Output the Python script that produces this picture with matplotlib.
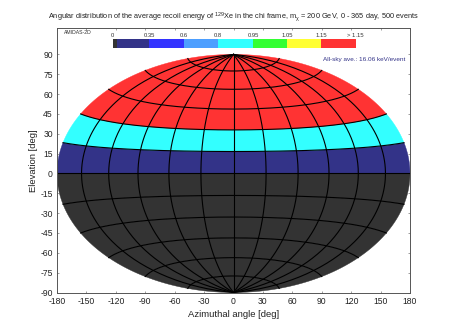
import matplotlib
matplotlib.use('Agg')
import matplotlib.pyplot as plt
import numpy as np

plt.rcParams['font.family'] = ['Liberation Sans', 'DejaVu Sans']
plt.rcParams['mathtext.fontset'] = 'custom'
plt.rcParams['mathtext.rm'] = 'Liberation Sans'
plt.rcParams['mathtext.it'] = 'Liberation Sans'
plt.rcParams['axes.unicode_minus'] = False

# elevation bands (lower edge, upper edge) and average recoil energy ratio
band_low = [-90, -75, -60, -45, -30, -15, 0, 15, 30, 45, 60, 75]
band_high = [-75, -60, -45, -30, -15, 0, 15, 30, 45, 60, 75, 90]
band_ratio = [0.0, 0.0, 0.0, 0.0, 0.0, 0.0, 0.2, 0.9, 1.3, 1.3, 1.3, 1.3]

# colour key
key_edges = [0, 0.02, 0.35, 0.6, 0.8, 0.95, 1.05, 1.15]
key_labels = ['0', '0.35', '0.6', '0.8', '0.95', '1.05', '1.15', '> 1.15']
key_colors = ['#333333', '#333388', '#3333ff', '#4d9fff', '#33ffff', '#33ff33', '#ffff33', '#ff3333']
key_widths = [4.6, 32, 34.7, 34, 35, 34, 34, 34.7]

x_ticks = list(range(-180, 181, 30))
y_ticks = list(range(-90, 91, 15))
meridians = list(range(-150, 151, 30))
parallels = list(range(-75, 76, 15))


def hammer(lon, lat):
    lam = np.radians(lon) / 2
    phi = np.radians(lat)
    d = np.sqrt(1 + np.cos(phi) * np.cos(lam))
    return 180 * np.cos(phi) * np.sin(lam) / d, 90 * np.sin(phi) / d


W, H = 458.0, 321.0
fig = plt.figure(figsize=(W / 100, H / 100), dpi=100)
ax = fig.add_axes([57 / W, 1 - 292.5 / H, 353 / W, 264.5 / H])

lon_fine = np.linspace(-180, 180, 361)
for low, high, ratio in zip(band_low, band_high, band_ratio):
    color = key_colors[np.digitize(ratio, key_edges) - 1]
    side = np.linspace(low, high, 40)
    # go round the band: left side up, top edge, right side down, bottom edge
    lons = np.r_[np.full_like(side, -180), lon_fine, np.full_like(side, 180), lon_fine[::-1]]
    lats = np.r_[side, np.full_like(lon_fine, high), side[::-1], np.full_like(lon_fine, low)]
    x, y = hammer(lons, lats)
    ax.fill(x, y, color=color, lw=0.3, zorder=1)

lat_fine = np.linspace(-90, 90, 181)
for lon in meridians:
    x, y = hammer(np.full_like(lat_fine, lon), lat_fine)
    ax.plot(x, y, color='black', lw=0.8, zorder=2)
for lat in parallels:
    x, y = hammer(lon_fine, np.full_like(lon_fine, lat))
    ax.plot(x, y, color='black', lw=0.8, zorder=2)

ax.set_xlim(-180, 180)
ax.set_ylim(-90, 110)
ax.set_xticks(x_ticks)
ax.set_yticks(y_ticks)
ax.tick_params(direction='in', length=1.3, width=0.4, color='#555555',
               labelsize=6.2, labelcolor='#222222', top=True, right=True, pad=3)
for spine in ax.spines.values():
    spine.set_linewidth(0.7)
    spine.set_color('#555555')
ax.set_xlabel('Azimuthal angle [deg]', fontsize=6.8, color='#222222', labelpad=3)
ax.set_ylabel('Elevation [deg]', fontsize=6.8, color='#222222', labelpad=2)

fig.text(233.5 / W, 1 - 17 / H,
         r'Angular distribution of the average recoil energy of $^{129}$Xe in the chi frame, m$_{\chi}$ = 200 GeV, 0 - 365 day, 500 events',
         fontsize=5.35, ha='center', va='center', color='#222222')
fig.text(64 / W, 1 - 33 / H, 'AMIDAS-2D', fontsize=3.7, va='center', color='#333333')
fig.text(405 / W, 1 - 60 / H, 'All-sky ave.: 16.06 keV/event', fontsize=4.55,
         ha='right', va='center', color='#333388')

# key strip
key = fig.add_axes([112.7 / W, 1 - 48 / H, 243 / W, 9 / H])
lefts = np.r_[0, np.cumsum(key_widths)[:-1]]
key.bar(lefts, [1] * len(key_widths), width=key_widths, align='edge', color=key_colors)
key.set_xlim(0, sum(key_widths))
key.set_ylim(0, 1)
key.axis('off')
label_pos = [lefts[0]] + list(lefts[2:]) + [sum(key_widths)]
for pos, text in zip(label_pos, key_labels):
    key.text(pos, 1.15, text, fontsize=4.2, ha='center', va='bottom', color='#333333', clip_on=False)

fig.savefig('out.png', dpi=100)
